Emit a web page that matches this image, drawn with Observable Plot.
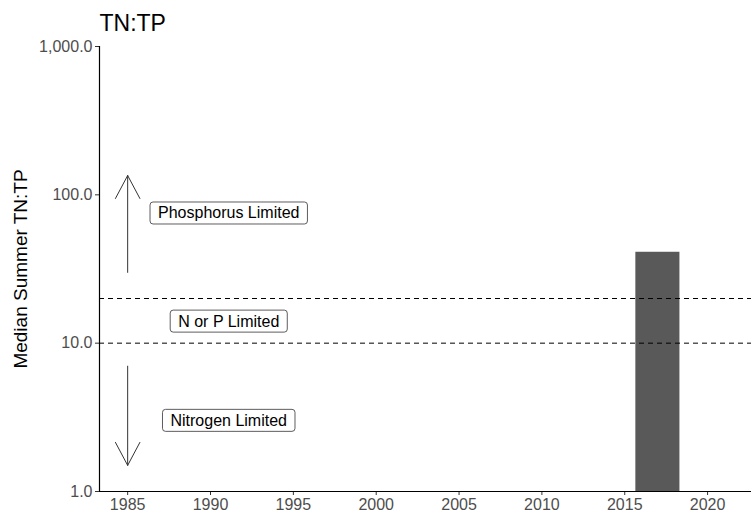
<!DOCTYPE html>
<html>
<head>
<meta charset="utf-8">
<script src="https://cdn.jsdelivr.net/npm/d3@7"></script>
<script src="https://cdn.jsdelivr.net/npm/@observablehq/plot@0.6"></script>
<style>
  body { margin: 0; background: #fff; }
  #chart { width: 751px; height: 515px; }
  #chart svg g[aria-label="x-axis tick label"],
  #chart svg g[aria-label="y-axis tick label"] { font-size: 16px !important; }
</style>
</head>
<body>
<div id="chart"></div>
<script>
// Data
const years = [2017];
const ratios = [41];
const thresholds = [10, 20];
const xTicks = [1985, 1990, 1995, 2000, 2005, 2010, 2015, 2020];
const yTicks = [1, 10, 100, 1000];
const labelTexts = ["Phosphorus Limited", "N or P Limited", "Nitrogen Limited"];
const labelYears = [1991.1, 1991.1, 1991.1];
const labelValues = [75, 14, 3];
const arrowYear = [1985, 1985];
const arrowFrom = [30, 7];
const arrowTo = [135, 1.5];

const bars = years.map((y, i) => ({year: y, value: ratios[i]}));
const labels = labelTexts.map((t, i) => ({text: t, x: labelYears[i], y: labelValues[i]}));
const arrows = arrowYear.map((x, i) => ({x, y1: arrowFrom[i], y2: arrowTo[i]}));
const halfWidth = 1.33;

const chart = Plot.plot({
  width: 751,
  height: 515,
  marginTop: 46,
  marginBottom: 24,
  marginLeft: 99,
  marginRight: 0,
  style: {fontFamily: "'Liberation Sans', Arial, sans-serif", background: "#fff"},
  x: {domain: [1983.3, 2022.65]},
  y: {type: "log", domain: [1, 1000]},
  marks: [
    Plot.rectY(bars, {x1: d => d.year - halfWidth, x2: d => d.year + halfWidth, y1: 1, y2: "value", fill: "#595959"}),
    Plot.ruleY(thresholds, {stroke: "#000", strokeWidth: 1, strokeDasharray: "5,4"}),
    Plot.arrow(arrows, {x1: "x", x2: "x", y1: "y1", y2: "y2", stroke: "#333", strokeWidth: 1, headLength: 39, headAngle: 56, bend: 0}),
    Plot.text(labels, {x: "x", y: "y", text: "text", fontSize: 16, fill: "#000"}),
    Plot.axisX({ticks: xTicks, tickFormat: "d", tickSize: 4, tickPadding: 3, fill: "#4d4d4d", stroke: "#333", label: null}),
    Plot.axisY({ticks: yTicks, tickFormat: ",.1f", tickSize: 4, tickPadding: 3, fill: "#4d4d4d", stroke: "#333", label: null}),
    Plot.ruleY([1], {stroke: "#000", strokeWidth: 1.2}),
    Plot.ruleX([1983.3], {stroke: "#000", strokeWidth: 1.2}),
    Plot.text(["Median Summer TN:TP"], {frameAnchor: "left", textAnchor: "middle", lineAnchor: "middle", rotate: -90, dx: -79, fontSize: 19, fill: "#000"}),
    Plot.text(["TN:TP"], {frameAnchor: "top-left", textAnchor: "start", lineAnchor: "middle", dy: -23, fontSize: 23, fill: "#000"})
  ]
});

document.getElementById("chart").appendChild(chart);

// Draw rounded boxes behind the annotation labels
const ns = "http://www.w3.org/2000/svg";
chart.querySelectorAll("text").forEach(t => {
  if (!labelTexts.includes(t.textContent)) return;
  const bb = t.getBBox();
  const padX = 8, padY = 2.5;
  const r = document.createElementNS(ns, "rect");
  r.setAttribute("x", bb.x - padX);
  r.setAttribute("y", bb.y - padY);
  r.setAttribute("width", bb.width + 2 * padX);
  r.setAttribute("height", bb.height + 2 * padY);
  r.setAttribute("rx", 3);
  r.setAttribute("fill", "#fff");
  r.setAttribute("stroke", "#333");
  r.setAttribute("stroke-width", 0.8);
  if (t.getAttribute("transform")) r.setAttribute("transform", t.getAttribute("transform"));
  t.parentNode.insertBefore(r, t);
});
</script>
</body>
</html>
